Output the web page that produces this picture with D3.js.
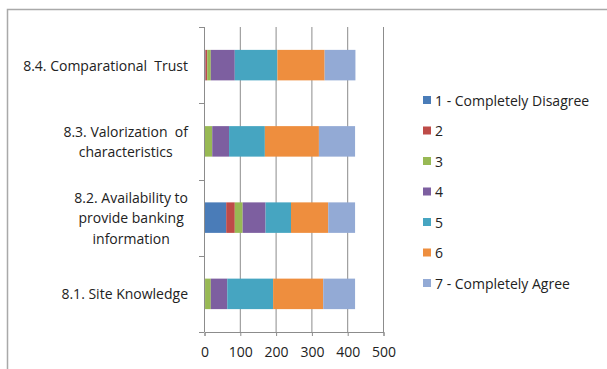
<!DOCTYPE html>
<html>
<head>
<meta charset="utf-8">
<script src="https://cdn.jsdelivr.net/npm/d3@7"></script>
<style>
  html, body { margin: 0; padding: 0; background: #fff; }
  svg { display: block; }
  text { font-family: "Open Sans", Lato, sans-serif; fill: #222; }
</style>
</head>
<body>
<svg id="chart" width="607" height="369"></svg>
<script>
// Survey items, bottom to top as drawn
const categories = [
  "8.1. Site Knowledge",
  "8.2. Availability to provide banking information",
  "8.3. Valorization of characteristics",
  "8.4. Comparational Trust"
];
// Wrapped label lines for each item
const categoryLines = [
  ["8.1. Site Knowledge"],
  ["8.2. Availability to", "provide banking", "information"],
  ["8.3. Valorization  of", "characteristics"],
  ["8.4. Comparational  Trust"]
];
const seriesNames = ["1 - Completely Disagree", "2", "3", "4", "5", "6", "7 - Completely Agree"];
// Responses per answer level, one array per level, in category order
const level1 = [1, 62, 1, 4];
const level2 = [2, 24, 1, 5];
const level3 = [16, 22, 21, 10];
const level4 = [46, 64, 47, 67];
const level5 = [128, 71, 100, 119];
const level6 = [140, 104, 151, 132];
const level7 = [89, 75, 101, 86];
const xTicks = [0, 100, 200, 300, 400, 500];
const colors = ["#4A7CB8", "#BE4B48", "#98B954", "#7D5FA0", "#46A5C1", "#EE8E3E", "#93AAD5"];

const levels = [level1, level2, level3, level4, level5, level6, level7];
const rows = categories.map((c, i) => {
  const r = { category: c };
  seriesNames.forEach((s, k) => { r[s] = levels[k][i]; });
  return r;
});
const stacked = d3.stack().keys(seriesNames)(rows);

const svg = d3.select("#chart");
const fontSize = 14;

// Outer frame (top and left edges)
svg.append("path")
  .attr("d", "M7.5,369 V9.5 H607")
  .attr("fill", "none")
  .attr("stroke", "#a9a9a9")
  .attr("stroke-width", 1.5);

const plot = { left: 204, right: 383, top: 27, bottom: 332 };

const x = d3.scaleLinear().domain([0, 500]).range([plot.left, plot.right]);
// Categories top to bottom: reverse order
const y = d3.scaleBand()
  .domain(categories.slice().reverse())
  .range([plot.top, plot.bottom])
  .paddingInner(0.6).paddingOuter(0.3);

const g = svg.append("g");

// Vertical gridlines
g.append("g")
  .selectAll("line")
  .data(xTicks.filter(t => t > 0))
  .join("line")
  .attr("x1", d => x(d) + 0.5).attr("x2", d => x(d) + 0.5)
  .attr("y1", plot.top).attr("y2", plot.bottom)
  .attr("stroke", "#8c8c8c").attr("stroke-width", 1);

// Stacked bars
g.append("g")
  .selectAll("g")
  .data(stacked)
  .join("g")
  .attr("fill", (d, i) => colors[i])
  .selectAll("rect")
  .data(d => d)
  .join("rect")
  .attr("x", d => x(d[0]))
  .attr("width", d => Math.max(0, x(d[1]) - x(d[0])))
  .attr("y", d => y(d.data.category))
  .attr("height", y.bandwidth());

// Bottom value axis
const xAxis = d3.axisBottom(x).tickValues(xTicks).tickSize(4).tickPadding(11);
const xa = g.append("g").attr("transform", `translate(0.5,${plot.bottom})`).call(xAxis);
xa.select(".domain").attr("stroke", "#8c8c8c");
xa.selectAll(".tick line").attr("stroke", "#8c8c8c");
xa.selectAll(".tick text").attr("font-size", fontSize).attr("font-family", "'Open Sans', sans-serif").attr("fill", "#222");

// Left category axis line with boundary ticks
const bounds = d3.range(categories.length + 1).map(i => plot.top + i * (plot.bottom - plot.top) / categories.length);
g.append("line")
  .attr("x1", plot.left + 0.5).attr("x2", plot.left + 0.5)
  .attr("y1", plot.top).attr("y2", plot.bottom)
  .attr("stroke", "#8c8c8c");
g.append("g").selectAll("line").data(bounds).join("line")
  .attr("x1", plot.left - 5).attr("x2", plot.left)
  .attr("y1", d => Math.round(d) + 0.5).attr("y2", d => Math.round(d) + 0.5)
  .attr("stroke", "#8c8c8c");

// Category labels: block right-aligned, lines centred within block
const labelRight = 188;
const lineH = 20.5;
categories.forEach((c, i) => {
  const lines = categoryLines[i];
  const cy = y(c) + y.bandwidth() / 2;
  const tg = g.append("g");
  const texts = tg.selectAll("text").data(lines).join("text")
    .attr("font-size", fontSize)
    .attr("text-anchor", "middle")
    .attr("dominant-baseline", "central")
    .style("white-space", "pre")
    .attr("y", (d, k) => cy + (k - (lines.length - 1) / 2) * lineH)
    .text(d => d);
  let maxW = 0;
  texts.each(function () { maxW = Math.max(maxW, this.getComputedTextLength()); });
  texts.attr("x", labelRight - maxW / 2);
});

// Legend
const legend = svg.append("g").attr("transform", "translate(423,100)");
const items = legend.selectAll("g").data(seriesNames).join("g")
  .attr("transform", (d, i) => `translate(0,${i * 30.5})`);
items.append("rect").attr("x", 0).attr("y", -4).attr("width", 8).attr("height", 8)
  .attr("fill", (d, i) => colors[i]);
items.append("text").attr("x", 12).attr("y", 0)
  .attr("dominant-baseline", "central")
  .attr("font-size", fontSize)
  .text(d => d);
</script>
</body>
</html>
